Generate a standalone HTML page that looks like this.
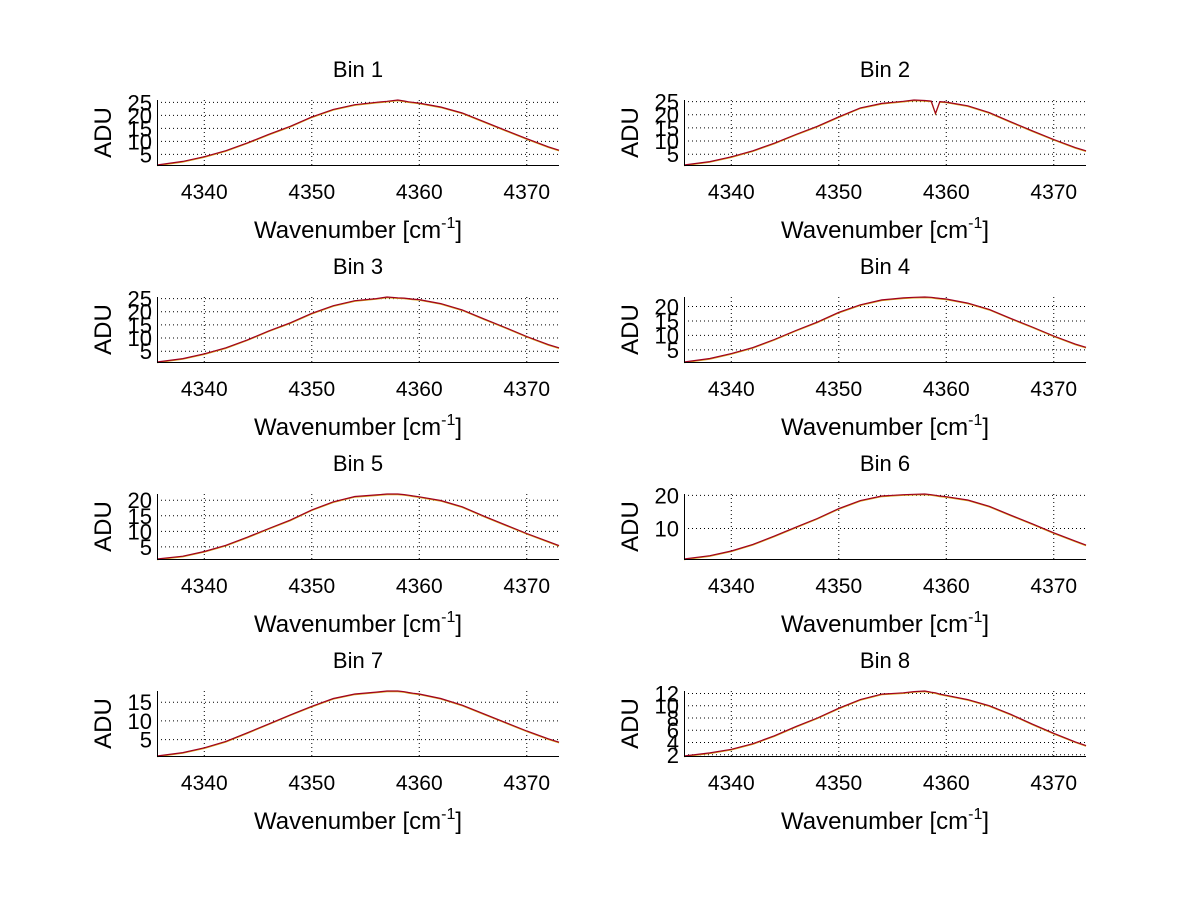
<!DOCTYPE html>
<html><head><meta charset="utf-8">
<style>
html,body{margin:0;padding:0;background:#fff;}
svg text{font-family:"Liberation Sans",Arial,sans-serif;fill:#000;}
</style></head>
<body>
<svg id="fig" width="1200" height="901" viewBox="0 0 1200 901" xmlns="http://www.w3.org/2000/svg">
<rect width="1200" height="901" fill="#fff"/>
</svg>
<script>
const xs = [4335.6,4338,4340,4342,4344,4346,4348,4350,4352,4354,4356,4357,4358,4358.6,4359,4359.4,4360,4362,4364,4366,4368,4370,4372,4373];
const xTicks = [4340,4350,4360,4370];
const binTitles = ["Bin 1","Bin 2","Bin 3","Bin 4","Bin 5","Bin 6","Bin 7","Bin 8"];
const bin1 = [0.9,2.3,4.1,6.4,9.4,12.7,15.8,19.4,22.3,24.1,25.0,25.4,25.9,25.5,25.2,25.0,24.7,23.2,20.9,17.6,14.3,11.0,7.9,6.6];
const bin2 = [0.9,2.2,4.0,6.3,9.2,12.5,15.6,19.2,22.6,24.3,25.1,25.6,25.4,25.2,20.5,25.0,24.8,23.4,20.8,17.3,13.9,10.6,7.5,6.3];
const bin3 = [0.9,2.2,4.0,6.3,9.3,12.7,15.8,19.4,22.3,24.2,25.0,25.6,25.3,25.2,25.0,24.8,24.6,23.1,20.7,17.3,14.0,10.6,7.5,6.3];
const bin4 = [0.8,2.0,3.7,5.8,8.6,11.7,14.6,18.0,20.6,22.3,23.0,23.2,23.3,23.2,23.0,22.8,22.6,21.2,19.0,15.9,12.9,9.8,7.0,5.9];
const bin5 = [1.1,2.0,3.5,5.5,8.1,10.9,13.6,16.9,19.5,21.2,21.7,22.0,22.0,21.8,21.6,21.4,21.1,19.9,17.9,14.9,12.1,9.3,6.7,5.4];
const bin6 = [0.8,1.8,3.2,5.2,7.7,10.4,13.0,16.0,18.4,19.8,20.2,20.3,20.4,20.2,20.0,19.8,19.6,18.6,16.7,14.0,11.4,8.7,6.2,5.0];
const bin7 = [0.6,1.5,2.8,4.5,6.8,9.2,11.6,13.9,16.0,17.2,17.7,18.0,18.0,17.8,17.6,17.4,17.2,16.0,14.2,11.9,9.6,7.3,5.2,4.3];
const bin8 = [1.8,2.3,2.9,3.8,5.1,6.6,8.0,9.6,11.0,11.9,12.1,12.3,12.4,12.2,12.1,11.9,11.7,11.0,10.0,8.6,7.0,5.5,4.1,3.5];
const binData = [bin1,bin2,bin3,bin4,bin5,bin6,bin7,bin8];
const yTicks1 = [5,10,15,20,25];
const yTicks2 = [5,10,15,20,25];
const yTicks3 = [5,10,15,20,25];
const yTicks4 = [5,10,15,20];
const yTicks5 = [5,10,15,20];
const yTicks6 = [10,20];
const yTicks7 = [5,10,15];
const yTicks8 = [2,4,6,8,10,12];
const yTickSets = [yTicks1,yTicks2,yTicks3,yTicks4,yTicks5,yTicks6,yTicks7,yTicks8];

const NS = "http://www.w3.org/2000/svg";
const svg = document.getElementById("fig");
const X0 = 4335.6, X1 = 4373.0;
function mk(tag, attrs, parent){
  const e = document.createElementNS(NS, tag);
  for (const k in attrs) e.setAttribute(k, attrs[k]);
  (parent||svg).appendChild(e);
  return e;
}
for (let i = 0; i < 8; i++) {
  const col = i % 2, row = Math.floor(i / 2);
  const L = col ? 684 : 157, R = col ? 1086 : 559;
  const T = 100 + row * 197, B = T + 65;
  const data = binData[i];
  const ymin = Math.min(...data), ymax = Math.max(...data);
  const xS = v => L + (v - X0) / (X1 - X0) * (R - L);
  const yS = v => B - (v - ymin) / (ymax - ymin) * (B - T);
  const g = mk("g", {});
  
  
  xTicks.forEach(t => {
    const ln = mk("line", {x1:xS(t), x2:xS(t), y1:T, y2:B, stroke:"#000", "stroke-width":1, "stroke-dasharray":"1,3"}, g);
    
    
    const tl = mk("text", {x:xS(t), y:B + 34, "font-size":21, "text-anchor":"middle"}, g);
    tl.textContent = t;
    
    
  });
  yTickSets[i].forEach(t => {
    const ln = mk("line", {x1:L, x2:R, y1:yS(t), y2:yS(t), stroke:"#000", "stroke-width":1, "stroke-dasharray":"1,3"}, g);
    
    
    const tl = mk("text", {x:L - 5, y:yS(t) + 8, "font-size":22, "text-anchor":"end"}, g);
    tl.textContent = t;
    
    
  });
  const pts = xs.map((x, k) => xS(x).toFixed(1) + "," + yS(data[k]).toFixed(1)).join(" ");
  const pl2 = mk("polyline", {points:pts, fill:"none", stroke:"#d4a017", "stroke-width":1.2, transform:"translate(0,0.6)"}, g);
  
  
  const pl = mk("polyline", {points:pts, fill:"none", stroke:"#a00020", "stroke-width":1.2}, g);
  
  
  const ax = mk("path", {d:`M${L+0.5},${T}V${B+0.5}H${R}`, fill:"none", stroke:"#000", "stroke-width":1}, g);
  
  
  const ti = mk("text", {x:(L + R) / 2, y:T - 23, "font-size":22, "text-anchor":"middle"}, g);
  ti.textContent = binTitles[i];
  
  
  const xl = mk("text", {x:(L + R) / 2, y:B + 73, "font-size":24, "text-anchor":"middle"}, g);
  xl.innerHTML = 'Wavenumber [cm<tspan dy="-10" font-size="16">-1</tspan><tspan dy="10">]</tspan>';
  
  
  const cx = L - 54, cy = (T + B) / 2;
  const yl = mk("text", {x:cx, y:cy + 8, "font-size":24, "text-anchor":"middle", transform:`rotate(-90 ${cx} ${cy})`}, g);
  yl.textContent = "ADU";
  
  
}
</script>
</body></html>
